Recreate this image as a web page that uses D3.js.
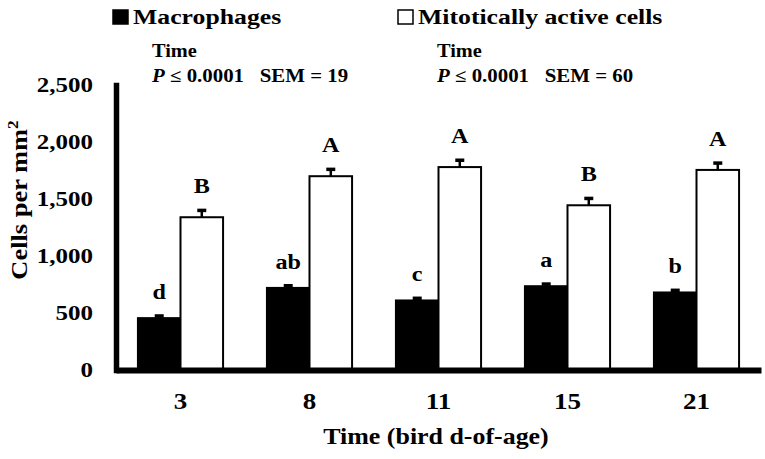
<!DOCTYPE html>
<html>
<head>
<meta charset="utf-8">
<script src="https://cdn.jsdelivr.net/npm/d3@7"></script>
<style>
body { margin: 0; background: #fff; }
svg { display: block; font-family: "Liberation Serif", "Times New Roman", serif; font-weight: bold; }
</style>
</head>
<body>
<div id="chart"></div>
<script>
const ages = ["3", "8", "11", "15", "21"];
const seriesNames = ["Macrophages", "Mitotically active cells"];
const macrophages = [455, 720, 610, 735, 680];
const mitotic = [1340, 1700, 1780, 1445, 1755];
const sems = [19, 60];
const macroLetters = ["d", "ab", "c", "a", "b"];
const mitoticLetters = ["B", "A", "A", "B", "A"];
const pValues = ["0.0001", "0.0001"];
const yTicks = [0, 500, 1000, 1500, 2000, 2500];

const width = 765, height = 459;
const plotLeft = 116, plotRight = 761, plotBottom = 370, plotTop = 85;

const values = [macrophages, mitotic];
const letters = [macroLetters, mitoticLetters];
const fills = ["#000", "#fff"];

const rows = ages.map((a, i) => ({
    age: a,
    bars: seriesNames.map((s, j) => ({
        series: s,
        value: values[j][i],
        sem: sems[j],
        letter: letters[j][i],
        fill: fills[j]
    }))
}));

const x0 = d3.scaleBand().domain(ages).range([plotLeft, plotRight]).paddingInner(0.34).paddingOuter(0.17);
const x1 = d3.scaleBand().domain(seriesNames).range([0, x0.bandwidth()]);
const y = d3.scaleLinear().domain([0, 2500]).range([plotBottom, plotTop]);

const svg = d3.select("#chart").append("svg")
    .attr("width", width)
    .attr("height", height);

// the figure's type is set wider than the font, so stretch text sideways
const stretch = (sel, x, y, sx) => sel.attr("transform", `translate(${x},${y}) scale(${sx},1)`);

const groups = svg.append("g")
    .selectAll("g")
    .data(rows)
    .enter()
    .append("g")
    .attr("transform", d => `translate(${x0(d.age)},0)`);

groups.selectAll("rect")
    .data(d => d.bars)
    .enter()
    .append("rect")
    .attr("x", d => x1(d.series))
    .attr("y", d => y(d.value))
    .attr("width", x1.bandwidth())
    .attr("height", d => y(0) - y(d.value))
    .attr("fill", d => d.fill)
    .attr("stroke", "#000")
    .attr("stroke-width", 2);

const err = groups.selectAll("g.err")
    .data(d => d.bars)
    .enter()
    .append("g")
    .attr("class", "err")
    .attr("transform", d => `translate(${x1(d.series) + x1.bandwidth() / 2},0)`);

err.append("line")
    .attr("y1", d => y(d.value))
    .attr("y2", d => y(d.value + d.sem))
    .attr("stroke", "#000")
    .attr("stroke-width", 2.5);

err.append("line")
    .attr("x1", -4.5)
    .attr("x2", 4.5)
    .attr("y1", d => y(d.value + d.sem))
    .attr("y2", d => y(d.value + d.sem))
    .attr("stroke", "#000")
    .attr("stroke-width", 3.5);

err.append("text")
    .text(d => d.letter)
    .attr("text-anchor", "middle")
    .attr("font-size", 21)
    .each(function(d) { stretch(d3.select(this), 0, y(d.value + d.sem) - 17, 1.15); });

// axes
const yAxis = svg.append("g")
    .attr("transform", `translate(${plotLeft},0)`)
    .call(d3.axisLeft(y).tickValues(yTicks).tickSize(0).tickFormat(d3.format(",")))
    .attr("font-family", null)
    .attr("font-size", null);

yAxis.select(".domain")
    .attr("stroke-width", 5.5)
    .attr("stroke-linecap", "square");

yAxis.selectAll("text")
    .attr("x", null)
    .attr("font-size", 20)
    .attr("fill", "#000")
    .attr("transform", "translate(-23,0) scale(1.25,1)");

const xAxis = svg.append("g")
    .attr("transform", `translate(0,${plotBottom})`)
    .call(d3.axisBottom(x0).tickSize(0).tickPadding(22))
    .attr("font-family", null)
    .attr("font-size", null);

xAxis.select(".domain").attr("stroke-width", 6);

xAxis.selectAll("text")
    .attr("font-size", 23.5)
    .attr("fill", "#000")
    .attr("transform", "scale(1.15,1)");

svg.append("text")
    .attr("text-anchor", "middle")
    .attr("font-size", 24)
    .text("Time (bird d-of-age)")
    .call(stretch, 436, 444, 1.08);

const yTitle = svg.append("text")
    .attr("text-anchor", "middle")
    .attr("font-size", 23)
    .attr("transform", "translate(27,200) rotate(-90) scale(1.15,1)");
yTitle.append("tspan").text("Cells per mm");
yTitle.append("tspan").attr("font-size", 15).attr("dy", -9).text("2");

// legend
const legendX = [113, 398];
const legend = svg.append("g")
    .selectAll("g")
    .data(seriesNames)
    .enter()
    .append("g")
    .attr("transform", (d, i) => `translate(${legendX[i]},10)`);

legend.append("rect")
    .attr("width", 15)
    .attr("height", 14)
    .attr("fill", (d, i) => fills[i])
    .attr("stroke", "#000")
    .attr("stroke-width", 1.5);

legend.append("text")
    .text(d => d)
    .attr("font-size", 22)
    .each(function() { stretch(d3.select(this), 20, 14, 1.17); });

// stats under each legend entry
const statX = [152, 437];
const stats = svg.append("g")
    .selectAll("g")
    .data(sems)
    .enter()
    .append("g")
    .attr("transform", (d, i) => `translate(${statX[i]},0)`);

stats.append("text")
    .text("Time")
    .attr("font-size", 18.5)
    .each(function() { stretch(d3.select(this), 0, 57, 1.1); });

const pLine = stats.append("text")
    .attr("font-size", 18)
    .style("white-space", "pre")
    .each(function() { stretch(d3.select(this), 0, 82, 1.16); });

pLine.append("tspan").attr("font-style", "italic").text("P");
pLine.append("tspan").text((d, i) => ` \u2264 ${pValues[i]}   SEM = ${d}`);
</script>
</body>
</html>
